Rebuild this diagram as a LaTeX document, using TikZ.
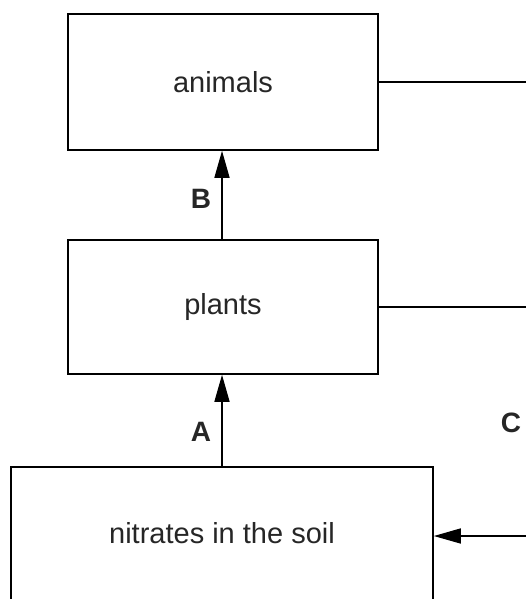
\documentclass[tikz,border=0pt]{standalone}
\usepackage{fontspec}
\setmainfont{Liberation Sans}
\usetikzlibrary{arrows.meta}
\begin{document}
\begin{tikzpicture}[x=1pt,y=-1pt,
  box/.style={draw=black,line width=1.6pt,inner sep=0pt,font=\fontsize{29}{35}\selectfont,text=black!85},
  lbl/.style={inner sep=0pt,font=\bfseries\fontsize{28}{34}\selectfont,text=black!85},
  conn/.style={line width=1.5pt},
  arr/.style={line width=1.5pt,-{Triangle[length=27pt,width=15pt]}}]
\useasboundingbox (0,0) rectangle (526,599);
\clip (0,0) rectangle (526,599);
\node[box,minimum width=310pt,minimum height=136pt] (animals) at (223,82) {animals};
\node[box,minimum width=310pt,minimum height=134pt] (plants) at (223,307) {plants};
\node[box,minimum width=422pt,minimum height=136pt] (nitrates) at (222,535) {};
\node[inner sep=0pt,font=\fontsize{29}{35}\selectfont,text=black!85] (ntext) at (222,533) {nitrates in the soil};
\coordinate (ra) at (527,82);
\coordinate (rp) at (527,307);
\coordinate (rn) at (527,536);
\draw[conn] (animals.east) -- (ra);
\draw[conn] (plants.east) -- (rp);
\draw[arr] (rn) -- (nitrates.east |- rn);
\draw[arr] (plants.north -| 222,0) -- (animals.south -| 222,0);
\draw[arr] (nitrates.north) -- (nitrates.north |- plants.south);
\node[lbl] (B) at (201,199) {B};
\node[lbl] (A) at (201,432) {A};
\node[lbl] (C) at (511,423) {C};
\end{tikzpicture}
\end{document}
